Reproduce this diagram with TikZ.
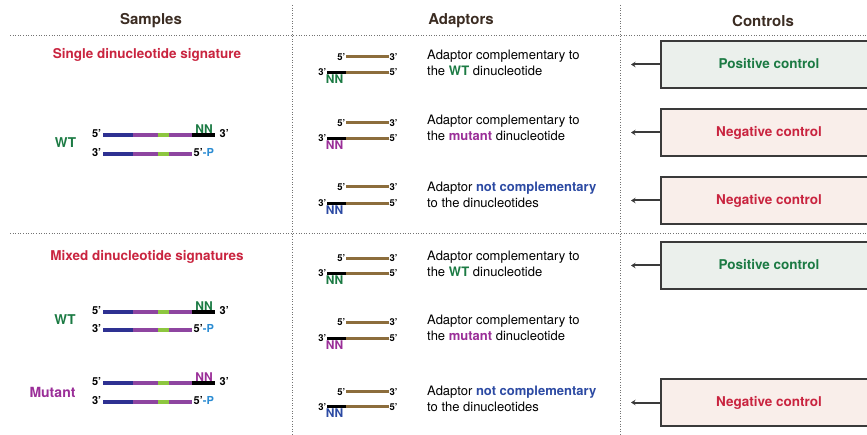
\documentclass[tikz,border=0pt]{standalone}
\usepackage{fontspec}
\setmainfont{TeX Gyre Heros}
\usetikzlibrary{arrows.meta}
\definecolor{hdr}{HTML}{3B2C22}
\definecolor{cred}{HTML}{C9243F}
\definecolor{cgreen}{HTML}{1B7A43}
\definecolor{cpurple}{HTML}{9A2E98}
\definecolor{cblue}{HTML}{2C4AA3}
\definecolor{ccyan}{HTML}{2A8BD2}
\definecolor{sblue}{HTML}{2E3192}
\definecolor{spurple}{HTML}{8E45A0}
\definecolor{sgreen}{HTML}{8DC63F}
\definecolor{abrown}{HTML}{8C6D3C}
\definecolor{posfill}{HTML}{EBF0EC}
\definecolor{negfill}{HTML}{F9EEEA}
\definecolor{boxline}{HTML}{3A3A3A}
\newcommand\fs[1]{\fontsize{#1}{#1}\selectfont}
\newcommand\dsample[3]{%
  \draw[strand,sblue] (103,#1) -- (133,#1);
  \draw[strand,spurple] (133,#1) -- (158,#1);
  \draw[strand,sgreen] (158,#1) -- (169,#1);
  \draw[strand,spurple] (169,#1) -- (192,#1);
  \draw[strand,black] (192,#1) -- (215,#1);
  \draw[strand,sblue] (103,#2) -- (133,#2);
  \draw[strand,spurple] (133,#2) -- (158,#2);
  \draw[strand,sgreen] (158,#2) -- (169,#2);
  \draw[strand,spurple] (169,#2) -- (192,#2);
  \node[slab,anchor=east] (#3a) at (102,{#1-1}) {5’};
  \node[slab,anchor=west] (#3b) at (219,{#1-1}) {3’};
  \node[slab,anchor=east] (#3c) at (102,{#2-1}) {3’};
  \node[slab,anchor=west] (#3d) at (193,{#2-1}) {5’\textcolor{ccyan}{-P}};
}
\newcommand\dadaptor[4]{%
  \draw[strand,abrown] (346,#1) -- (389,#1);
  \draw[strand,black] (327,#2) -- (346,#2);
  \draw[strand,abrown] (346,#2) -- (389,#2);
  \node[alab,anchor=east] (#4a) at (346,#1) {5’};
  \node[alab,anchor=west] (#4b) at (389,#1) {3’};
  \node[alab,anchor=east] (#4c) at (327,#2) {3’};
  \node[alab,anchor=west] (#4d) at (389,#2) {5’};
  \node[nnlab,text=#3,anchor=north] (#4n) at (334.5,{#2+2}) {NN};
}
\begin{document}
\begin{tikzpicture}[x=1pt,y=-1pt,
  sep/.style={black!55, line width=0.8pt, dash pattern=on 1pt off 1.6pt},
  header/.style={font=\bfseries\fs{15}, text=hdr, inner sep=0pt},
  title/.style={font=\bfseries\fs{13.5}, text=cred, inner sep=0pt},
  strand/.style={line width=3.2pt},
  slab/.style={font=\bfseries\fs{11}, inner sep=0.5pt},
  alab/.style={font=\bfseries\fs{9.5}, inner sep=0.5pt},
  nnlab/.style={font=\bfseries\fs{12}, inner sep=0pt},
  bigl/.style={font=\bfseries\fs{13.5}, inner sep=0pt},
  atext/.style={font=\fs{13}, anchor=base west, inner sep=0pt},
  posbox/.style={draw=boxline, line width=1.5pt, fill=posfill},
  negbox/.style={draw=boxline, line width=1.5pt, fill=negfill},
  ctext/.style={font=\bfseries\fs{13.5}, inner sep=0pt},
  arr/.style={draw=boxline, line width=2pt, -{Stealth[length=4.5pt,width=5.5pt]}}]
\useasboundingbox (0,0) rectangle (867,435);
\clip (0,0) rectangle (867,435);
% separators
\draw[sep] (292,5) -- (292,435);
\draw[sep] (620,5) -- (620,435);
\draw[sep] (10,35) -- (867,35);
\draw[sep] (10,233) -- (867,233);
% headers
\node[header] (hs) at (151,21) {Samples};
\node[header] (ha) at (461,21) {Adaptors};
\node[header] (hc) at (763,21) {Controls};
% samples
\node[title] (t1) at (147,55) {Single dinucleotide signature};
\node[title] (t2) at (147,257) {Mixed dinucleotide signatures};
\dsample{135}{154}{s1}
\node[nnlab,text=cgreen,anchor=south] (s1n) at (204,133.5) {NN};
\node[bigl,text=cgreen] (wt1) at (65.5,143) {WT};
\dsample{312}{330}{s2}
\node[nnlab,text=cgreen,anchor=south] (s2n) at (204,310.5) {NN};
\node[bigl,text=cgreen] (wt2) at (65,319.5) {WT};
\dsample{383}{402}{s3}
\node[nnlab,text=cpurple,anchor=south] (s3n) at (204,381.5) {NN};
\node[bigl,text=cpurple,font=\bfseries\fs{14}] (mu) at (52.5,392.5) {Mutant};
% adaptors
\dadaptor{56.7}{72.3}{cgreen}{a1}
\dadaptor{122.7}{138.3}{cpurple}{a2}
\dadaptor{186.7}{203.3}{cblue}{a3}
\dadaptor{258.3}{273.3}{cgreen}{a4}
\dadaptor{322.3}{338.3}{cpurple}{a5}
\dadaptor{391.7}{406.7}{cblue}{a6}
\node[atext] (x1a) at (427,59.3) {Adaptor complementary to};
\node[atext] (x1b) at (427,75.3) {the \textbf{\textcolor{cgreen}{WT}} dinucleotide};
\node[atext] (x2a) at (427,125) {Adaptor complementary to};
\node[atext] (x2b) at (427,141) {the \textbf{\textcolor{cpurple}{mutant}} dinucleotide};
\node[atext] (x3a) at (427,192) {Adaptor \textbf{\textcolor{cblue}{not complementary}}};
\node[atext] (x3b) at (427,208) {to the dinucleotides};
\node[atext] (x4a) at (427,261) {Adaptor complementary to};
\node[atext] (x4b) at (427,277) {the \textbf{\textcolor{cgreen}{WT}} dinucleotide};
\node[atext] (x5a) at (427,325) {Adaptor complementary to};
\node[atext] (x5b) at (427,341) {the \textbf{\textcolor{cpurple}{mutant}} dinucleotide};
\node[atext] (x6a) at (427,395.3) {Adaptor \textbf{\textcolor{cblue}{not complementary}}};
\node[atext] (x6b) at (427,411.3) {to the dinucleotides};
% controls
\draw[posbox] (661,41) rectangle (880,88);
\draw[negbox] (661,109) rectangle (880,156);
\draw[negbox] (661,177) rectangle (880,224);
\draw[posbox] (661,242) rectangle (880,289);
\draw[negbox] (661,379) rectangle (880,426);
\node[ctext,text=cgreen] (c1) at (769,64) {Positive control};
\node[ctext,text=cred] (c2) at (769,132.5) {Negative control};
\node[ctext,text=cred] (c3) at (769,200.5) {Negative control};
\node[ctext,text=cgreen] (c4) at (769,265) {Positive control};
\node[ctext,text=cred] (c5) at (769,402.5) {Negative control};
\coordinate (b1) at (660,64.5);
\coordinate (b2) at (660,132.5);
\coordinate (b3) at (660,200.5);
\coordinate (b4) at (660,265.5);
\coordinate (b5) at (660,402.5);
\coordinate (e1) at (631,64.5);
\coordinate (e2) at (631,132.5);
\coordinate (e3) at (631,200.5);
\coordinate (e4) at (631,265.5);
\coordinate (e5) at (631,402.5);
\draw[arr] (b1) -- (e1);
\draw[arr] (b2) -- (e2);
\draw[arr] (b3) -- (e3);
\draw[arr] (b4) -- (e4);
\draw[arr] (b5) -- (e5);
\end{tikzpicture}
\end{document}
